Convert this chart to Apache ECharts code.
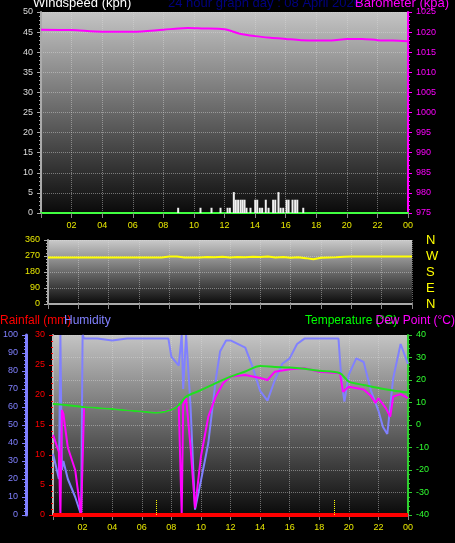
<!DOCTYPE html>
<html><head><meta charset="utf-8">
<script src="https://cdn.jsdelivr.net/npm/echarts@6/dist/echarts.min.js"></script>
<style>html,body{margin:0;background:#000}#c{width:455px;height:543px}</style>
</head><body><div id="c"></div>
<script>
const hourTicks = [0,2,4,6,8,10,12,14,16,18,20,22,24];
const baroHours = [0,2,4,6,8,9,9.6,10.5,12,13,14,15,16,17,18,19,20,21,22,23,24];
const baroVals  = [1020.6,1020.5,1020.1,1020.1,1020.6,1020.9,1021,1020.9,1020.7,1019.6,1019.0,1018.6,1018.3,1018.0,1017.9,1017.9,1018.3,1018.3,1018.0,1017.9,1017.7];
const windHours = [8.97,10.43,11.15,11.74,12.2,12.35,12.61,12.74,12.89,13.05,13.18,13.31,13.44,13.7,14.01,14.14,14.31,14.46,14.7,14.88,15.18,15.32,15.53,15.67,15.84,16.06,16.19,16.45,16.62,16.76,17.15];
const windVals  = [1.3,1.3,1.3,1.3,1.3,1.3,5.2,3.3,3.3,3.3,3.3,3.3,1.3,1.3,3.3,3.3,1.3,1.3,3.3,1.3,3.3,3.3,5.2,1.3,1.3,3.3,3.3,3.3,3.3,3.3,1.3];
const dirVals = [262,262,262,262,262,262,262,262,262,262,262,262,262,262,262,262,
  267,267,262,262,262,265,263,266,262,264,263,266,264,267,262,265,260,263,258,252,260,262,263,266,
  267,267,267,267,267,267,267,267,267];
const tempHours = [0,1,2,3,4,5,6,7,8,8.5,9,10,11,12,13,14,15,16,17,18,19.4,20,21,22,23,24];
const tempVals  = [9.3,8.8,8,7.6,7.1,6.5,6,5.5,6.7,8.9,12.6,15.5,18.6,21.5,23.8,26.2,25.8,25.6,25,24.1,23,19.3,17.8,16.4,15.3,14.4];
const dewHours = [0,0.4,0.5,0.6,0.7,1,1.5,1.9,2,2.1,3,4,5,6,7,8,8.5,8.7,8.8,9,9.3,9.6,10,10.5,11,11.5,12,13,14,14.5,15,16,17,18,19.4,19.6,20,21,21.5,21.8,22,22.5,22.8,23,23.5,24];
const dewVals  = [-4.4,-12,-40,6.7,5,-10,-20,-40,-40,8,7.6,7.1,6.5,6,5.5,6.7,8.9,-40,9,12,-10,-37,-14,3.7,12.6,18.6,21.5,22.2,20.9,20,23.7,24.8,25.2,23.7,23,14.8,17,15.8,12.9,9.8,11.9,7.5,3.7,12.6,13.7,11.9];
const humHours = [0,0.4,0.5,0.6,0.7,1,1.5,1.9,2,2.1,3,4,5,6,7,7.8,8,8.5,8.7,8.8,9,9.3,9.6,10,10.5,11,11.3,11.7,12,13,13.5,14,14.5,15,15.5,16,16.5,17,19.3,19.5,19.7,20,20.5,21,21.5,22,22.3,22.6,23,23.5,24];
const humVals  = [34,20,100,25,30,20,10,0,100,98,98,97,98,98,98,98,88,83,100,70,100,60,3,19,40,75,91,97,97,93,82,69,63.5,75,84,87,95,98,98,75,63,78,87,85,69,58,49,45,76,95,84];
const rainVals = [[0,0],[24,0]];
const sunMarks = [7,19];

const fmtHour = v => v === 0 ? '' : (v === 24 ? '00' : String(v).padStart(2,'0'));
const bg = (top,bot) => new echarts.graphic.LinearGradient(0,0,0,1,[{offset:0,color:top},{offset:1,color:bot}]);
const dotted = {show:true,lineStyle:{color:'rgba(220,220,220,0.45)',type:'dotted'}};
const xa = (gi, showLabel) => ({type:'value',gridIndex:gi,min:0,max:24,interval:2,
  axisLine:{show:true,lineStyle:{color: gi===1?'#aaa':'#9c9c9c',width:2}},
  axisTick:{show:true,lineStyle:{color:'#888'}},
  axisLabel:{show:showLabel,color:'#e8e800',fontSize:9,formatter:fmtHour,margin:8},
  splitLine:dotted});
const ya = (o) => Object.assign({type:'value',axisTick:{show:true,length:4},minorTick:{show:true,length:2},
  axisLine:{show:true,lineStyle:{color:'#aaa',width:2}},splitLine:{show:false}},o);
const pairs = (h,v) => h.map((x,i)=>[x,v[i]]);
const dirHours = dirVals.map((_,i)=>i*0.5);
const F = '13px Liberation Sans';
const F2 = '12px Liberation Sans';

const chart = echarts.init(document.getElementById('c'));
chart.setOption({
  backgroundColor:'#000',
  animation:false,
  textStyle:{fontFamily:'Liberation Sans, Arial'},
  grid:[
    {left:41,right:47,top:12,height:201,show:true,borderWidth:0,backgroundColor:bg('#c4c4c4','#0a0a0a')},
    {left:48,right:43,top:240,height:64,show:true,borderWidth:0,backgroundColor:bg('#cacaca','#0a0a0a')},
    {left:50,right:47,top:335,height:180,show:true,borderWidth:0,backgroundColor:bg('#c4c4c4','#0a0a0a')}
  ],
  xAxis:[
    Object.assign(xa(0,true),{axisLine:{show:true,lineStyle:{color:'#40ff40',width:2}}}),
    xa(1,false), xa(2,true)
  ],
  yAxis:[
    ya({gridIndex:0,position:'left',min:0,max:50,interval:5,axisLabel:{color:'#ddd',fontSize:9},splitLine:dotted}),
    ya({gridIndex:0,position:'right',min:975,max:1025,interval:5,axisLine:{show:true,lineStyle:{color:'#ff00ff',width:2}},axisLabel:{color:'#ff00ff',fontSize:9,formatter:v=>String(v)}}),
    ya({gridIndex:1,position:'left',min:0,max:360,interval:90,axisLabel:{color:'#e8e800',fontSize:9},splitLine:dotted}),
    ya({gridIndex:1,position:'right',min:0,max:360,interval:90,axisLine:{show:false},axisTick:{show:false},minorTick:{show:false},
      axisLabel:{color:'#ffff00',fontSize:13,margin:14,formatter:v=>({0:'N',90:'E',180:'S',270:'W',360:'N'})[v]}}),
    ya({gridIndex:2,position:'left',min:0,max:30,interval:5,axisLine:{show:true,lineStyle:{color:'#bbb',width:2}},axisLabel:{color:'#ff0000',fontSize:9},axisTick:{show:true,length:4,lineStyle:{color:'#ff0000'}},minorTick:{show:true,length:2,lineStyle:{color:'#ff0000'}}}),
    ya({gridIndex:2,position:'left',offset:27,min:0,max:100,interval:10,axisLine:{show:true,lineStyle:{color:'#8080ff',width:3}},axisLabel:{color:'#8080ff',fontSize:9}}),
    ya({gridIndex:2,position:'right',min:-40,max:40,interval:10,axisLine:{show:true,lineStyle:{color:'#30d030',width:2}},axisLabel:{color:'#30ff30',fontSize:9},splitLine:dotted})
  ],
  series:[
    {type:'bar',xAxisIndex:0,yAxisIndex:0,barWidth:2,itemStyle:{color:'#f0f0f0'},data:pairs(windHours,windVals)},
    {type:'line',xAxisIndex:0,yAxisIndex:1,showSymbol:false,smooth:0.3,lineStyle:{color:'#ff00ff',width:2},data:pairs(baroHours,baroVals)},
    {type:'line',xAxisIndex:1,yAxisIndex:2,showSymbol:false,lineStyle:{color:'#ffff00',width:2},data:pairs(dirHours,dirVals)},
    {type:'line',xAxisIndex:2,yAxisIndex:5,showSymbol:false,lineStyle:{color:'#8080ff',width:2},data:pairs(humHours,humVals)},
    {type:'line',xAxisIndex:2,yAxisIndex:6,showSymbol:false,lineStyle:{color:'#ff00ff',width:2},data:pairs(dewHours,dewVals)},
    {type:'line',xAxisIndex:2,yAxisIndex:6,showSymbol:false,smooth:0.3,lineStyle:{color:'#20e020',width:2},data:pairs(tempHours,tempVals)},
    {type:'line',xAxisIndex:2,yAxisIndex:4,showSymbol:false,lineStyle:{color:'#ff0000',width:4},data:rainVals,
      markLine:{symbol:'none',silent:true,label:{show:false},lineStyle:{color:'#ffff00',type:'dotted',width:1},
        data:sunMarks.map(h=>[{coord:[h,0]},{coord:[h,2.5]}])}}
  ],
  graphic:[
    {type:'text',left:33,top:-3,z:100,style:{text:'Windspeed (kph)',fill:'#fff',font:F}},
    {type:'text',left:168,top:-3,z:100,style:{text:'24 hour graph day : 08 April 2026',fill:'#000080',font:F}},
    {type:'text',right:6,top:-3,z:100,style:{text:'Barometer (kpa)',fill:'#ff00ff',font:F}},
    {type:'text',left:0,top:315,style:{text:'Rainfall (mm)',fill:'#ff0000',font:F2}},
    {type:'text',left:64,top:315,style:{text:'Humidity',fill:'#8080ff',font:F2}},
    {type:'text',left:305,top:315,style:{text:'Temperature (°C)',fill:'#00ff00',font:F2}},
    {type:'text',right:0,top:315,style:{text:'Dew Point (°C)',fill:'#ff00ff',font:F2}}
  ]
});
</script></body></html>
